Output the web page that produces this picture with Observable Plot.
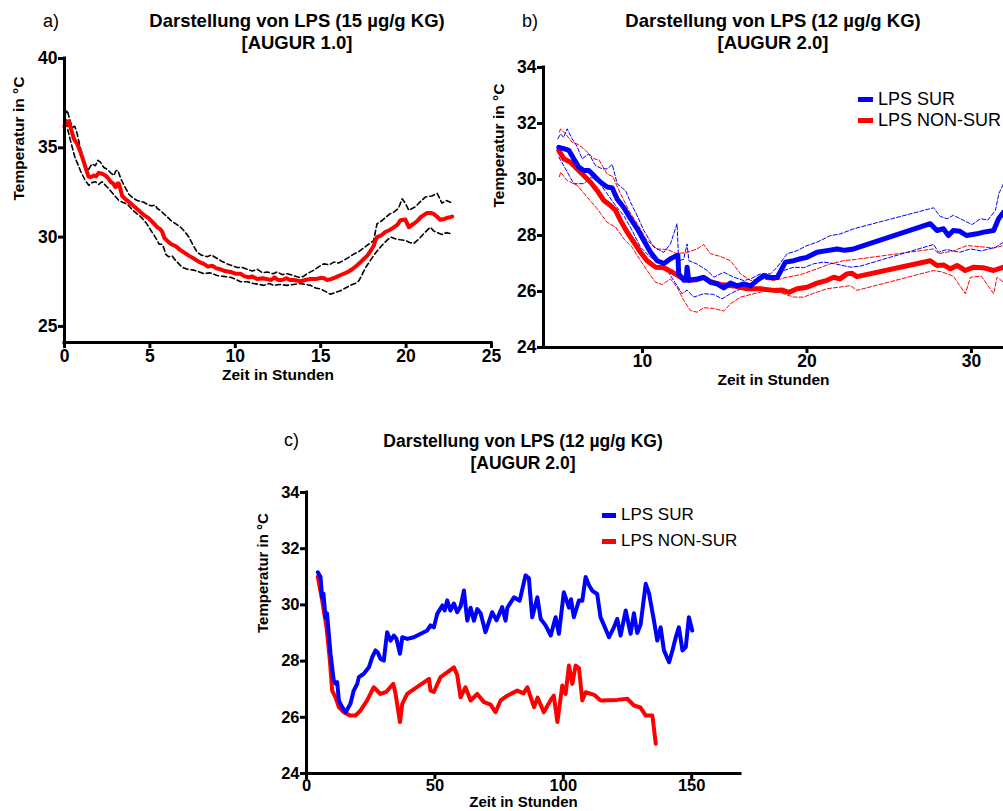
<!DOCTYPE html>
<html><head><meta charset="utf-8">
<script src="https://cdn.jsdelivr.net/npm/d3@7"></script>
<script src="https://cdn.jsdelivr.net/npm/@observablehq/plot@0.6"></script>
<style>
body{margin:0;background:#fff;}
#root{position:relative;width:1003px;height:811px;overflow:hidden;font-family:"Liberation Sans",Arial,Helvetica,sans-serif;color:#000;}
.abs{position:absolute;white-space:nowrap;}
.title{font-weight:bold;font-size:18.5px;text-align:center;line-height:22px;transform:translateX(-50%);}
.tag{font-size:18px;line-height:22px;}
.leg{font-size:18px;display:flex;align-items:center;line-height:20px;}
.sw{display:inline-block;width:15px;height:5px;margin-right:5px;}
</style></head><body><div id="root"></div>
<script>
// ---------- DATA ----------
// Panel a: LPS 15 µg/g KG, AUGUR 1.0  [hours, °C]
const aMean = [[0,36.2],[0.1,36.4],[0.25,36.5],[0.4,36.0],[0.55,35.5],[0.75,35.2],[0.94,34.75],[1.1,34.3],[1.23,33.9],[1.4,33.4],[1.52,33.35],[1.72,33.45],[1.85,33.4],[2.0,33.6],[2.2,33.55],[2.4,33.45],[2.55,33.3],[2.7,33.1],[2.85,33.0],[2.99,32.8],[3.1,33.0],[3.18,33.0],[3.3,32.6],[3.38,32.3],[3.6,32.1],[3.86,31.9],[4.1,31.7],[4.45,31.4],[4.7,31.2],[4.94,31.05],[5.2,30.8],[5.43,30.55],[5.6,30.45],[5.72,30.3],[5.85,29.95],[6.01,29.8],[6.25,29.6],[6.5,29.5],[6.75,29.3],[6.99,29.15],[7.3,28.95],[7.57,28.8],[7.9,28.6],[8.16,28.5],[8.4,28.35],[8.65,28.4],[8.9,28.25],[9.13,28.2],[9.4,28.1],[9.72,28.05],[10.0,27.95],[10.3,27.95],[10.55,27.8],[10.79,27.75],[11.0,27.8],[11.28,27.65],[11.6,27.7],[11.87,27.65],[12.1,27.6],[12.3,27.75],[12.5,27.6],[12.74,27.6],[13.0,27.7],[13.2,27.6],[13.43,27.6],[13.82,27.53],[14.1,27.6],[14.4,27.66],[14.7,27.65],[14.99,27.72],[15.2,27.7],[15.38,27.6],[15.6,27.65],[15.87,27.75],[16.1,27.85],[16.35,27.95],[16.6,28.05],[16.84,28.2],[17.1,28.4],[17.33,28.6],[17.55,28.8],[17.72,28.95],[17.9,29.2],[18.1,29.5],[18.2,29.8],[18.3,30.0],[18.55,30.1],[18.8,30.3],[19.05,30.4],[19.28,30.55],[19.5,30.7],[19.67,30.95],[19.96,30.98],[20.16,30.55],[20.3,30.65],[20.45,30.75],[20.65,30.9],[20.84,31.1],[21.05,31.25],[21.23,31.35],[21.45,31.35],[21.62,31.3],[21.8,31.15],[22.0,30.97],[22.2,31.0],[22.4,31.08],[22.7,31.15]];
const aUpper = [[0,36.8],[0.16,37.1],[0.3,36.6],[0.45,36.15],[0.6,36.2],[0.74,35.8],[0.9,35.1],[1.03,34.65],[1.2,34.0],[1.42,33.8],[1.6,34.1],[1.81,34.0],[1.95,34.3],[2.1,34.2],[2.3,33.9],[2.5,33.8],[2.7,33.6],[2.89,33.45],[3.0,33.7],[3.12,33.75],[3.25,33.4],[3.38,33.1],[3.6,32.7],[3.77,32.4],[4.0,32.2],[4.25,32.05],[4.45,32.0],[4.65,31.95],[4.9,31.8],[5.13,31.75],[5.3,31.8],[5.43,31.6],[5.6,31.5],[5.82,31.3],[6.0,31.15],[6.21,30.95],[6.5,30.75],[6.8,30.55],[7.05,30.3],[7.28,30.0],[7.5,29.6],[7.77,29.15],[8.0,29.0],[8.35,28.9],[8.6,29.0],[8.94,28.8],[9.2,28.65],[9.53,28.5],[9.8,28.4],[10.11,28.3],[10.4,28.3],[10.7,28.2],[11.0,28.1],[11.28,28.2],[11.6,28.0],[11.87,28.05],[12.2,27.95],[12.45,28.05],[12.75,27.9],[13.04,27.95],[13.4,27.85],[13.72,27.75],[14.0,27.8],[14.2,27.95],[14.6,28.15],[14.9,28.35],[15.18,28.5],[15.5,28.45],[15.77,28.6],[16.05,28.55],[16.35,28.7],[16.7,28.9],[16.94,29.05],[17.25,29.2],[17.52,29.4],[17.8,29.6],[18.1,29.8],[18.2,30.3],[18.3,30.75],[18.55,30.9],[18.8,31.1],[19.05,31.3],[19.28,31.4],[19.55,31.6],[19.77,32.15],[19.95,31.9],[20.16,31.5],[20.35,31.6],[20.55,31.7],[20.85,32.0],[21.14,32.25],[21.5,32.3],[21.82,32.45],[21.95,32.2],[22.1,31.9],[22.35,32.05],[22.6,31.95]];
const aLower = [[0,36.3],[0.1,36.6],[0.2,36.0],[0.35,35.4],[0.6,34.5],[0.94,33.7],[1.2,33.2],[1.42,32.9],[1.6,33.05],[1.81,33.1],[2.0,32.95],[2.2,33.1],[2.45,32.85],[2.69,32.6],[2.95,32.3],[3.18,32.05],[3.4,31.95],[3.67,31.85],[3.95,31.55],[4.25,31.3],[4.45,31.15],[4.65,30.95],[4.85,30.7],[5.04,30.4],[5.25,30.1],[5.43,29.8],[5.55,29.6],[5.72,29.6],[5.85,29.3],[5.91,29.05],[6.1,28.9],[6.3,28.95],[6.5,28.7],[6.7,28.5],[6.89,28.3],[7.2,28.2],[7.57,28.15],[7.9,28.05],[8.16,27.95],[8.5,28.0],[8.94,27.85],[9.3,27.8],[9.72,27.75],[10.0,27.65],[10.3,27.5],[10.7,27.5],[11.08,27.4],[11.4,27.35],[11.67,27.3],[12.0,27.4],[12.25,27.3],[12.6,27.35],[13.04,27.3],[13.4,27.35],[13.82,27.4],[14.1,27.35],[14.4,27.3],[14.7,27.15],[14.99,27.1],[15.3,26.95],[15.57,26.8],[15.85,26.9],[16.16,27.0],[16.45,27.15],[16.74,27.3],[17.0,27.4],[17.23,27.55],[17.4,27.85],[17.52,28.1],[17.7,28.4],[17.91,28.7],[18.2,29.1],[18.5,29.45],[18.8,29.75],[19.09,30.0],[19.4,29.9],[19.67,29.85],[20.0,29.8],[20.2,29.7],[20.45,29.65],[20.75,29.9],[21.04,30.2],[21.25,30.4],[21.43,30.55],[21.6,30.35],[21.82,30.25],[22.1,30.15],[22.35,30.25],[22.6,30.2]];
const aXTicks = [0,5,10,15,20,25];
const aYTicks = [25,30,35,40];

// Panel b: LPS 12 µg/g KG, AUGUR 2.0 (mean ± band)
const bSurMean = [[4.91,31.15],[5.21,31.1],[5.52,31.04],[5.82,30.74],[6.13,30.44],[6.43,30.32],[6.74,30.32],[7.04,30.14],[7.45,29.9],[7.85,29.73],[8.16,29.7],[8.46,29.3],[8.86,29.0],[9.27,28.6],[9.68,28.24],[10.08,27.82],[10.49,27.4],[10.89,27.1],[11.3,27.0],[11.7,27.17],[12.15,27.3],[12.2,26.63],[12.51,26.4],[12.66,26.4],[12.71,26.87],[12.81,26.4],[13.32,26.45],[13.72,26.5],[14.13,26.33],[14.53,26.27],[14.94,26.13],[15.35,26.3],[15.75,26.2],[16.16,26.27],[16.57,26.2],[16.97,26.4],[17.37,26.57],[17.78,26.5],[18.19,26.5],[18.69,27.05],[19.2,27.1],[19.6,27.17],[20.0,27.22],[20.61,27.4],[21.22,27.46],[21.83,27.52],[22.3,27.47],[22.84,27.52],[27.5,28.42],[27.9,28.18],[28.3,28.24],[28.6,28.0],[28.9,28.18],[29.3,28.15],[29.7,28.0],[30.33,28.06],[30.74,28.12],[31.35,28.18],[31.65,28.6],[31.95,28.83]];
const bNonMean = [[4.91,31.04],[5.21,30.74],[5.62,30.62],[6.03,30.38],[6.43,30.14],[6.84,29.9],[7.25,29.6],[7.65,29.25],[8.05,29.07],[8.36,28.9],[8.66,28.54],[9.07,28.12],[9.47,27.76],[9.88,27.4],[10.28,27.1],[10.79,26.87],[11.3,26.85],[11.81,26.69],[12.31,26.51],[12.82,26.4],[13.32,26.42],[13.72,26.51],[14.13,26.35],[14.74,26.25],[15.55,26.2],[16.37,26.1],[17.17,26.1],[17.98,26.04],[18.5,26.05],[18.9,25.97],[19.4,26.1],[20.0,26.15],[20.61,26.3],[21.22,26.4],[21.62,26.51],[22.0,26.45],[22.43,26.63],[22.73,26.65],[23.04,26.53],[27.5,27.1],[27.9,26.93],[28.3,26.95],[28.72,26.81],[29.13,26.93],[29.63,26.75],[30.14,26.87],[30.7,26.85],[31.35,26.75],[31.95,26.87]];
const bSurUpper = [[4.85,31.45],[5.02,31.63],[5.2,31.5],[5.42,31.81],[5.72,31.45],[6.0,31.2],[6.33,30.74],[6.74,30.92],[7.14,30.5],[7.55,30.38],[7.85,30.38],[8.16,30.54],[8.46,29.85],[8.97,29.6],[9.27,29.19],[9.68,28.7],[10.08,28.18],[10.69,27.58],[11.3,27.4],[11.7,27.7],[12.1,28.42],[12.2,27.1],[12.5,27.15],[12.71,27.7],[12.82,27.1],[13.32,26.98],[13.93,26.75],[14.34,26.51],[14.94,26.69],[15.55,26.51],[16.16,26.39],[16.57,26.45],[17.17,26.63],[17.78,26.63],[18.19,26.87],[18.8,27.35],[19.4,27.46],[20.0,27.64],[20.61,27.76],[21.43,28.0],[22.0,28.05],[22.84,28.24],[27.7,28.99],[28.1,28.68],[28.52,28.6],[28.9,28.72],[29.53,28.54],[30.04,28.39],[30.55,28.6],[31.0,28.55],[31.46,28.9],[31.67,29.5],[31.95,29.85]];
const bSurLower = [[4.91,30.8],[5.32,30.38],[5.82,29.85],[6.43,29.85],[6.84,30.08],[7.35,29.9],[7.85,29.49],[8.36,29.07],[8.86,28.71],[9.37,28.18],[9.88,27.58],[10.49,27.22],[11.09,27.05],[11.5,26.75],[12.1,26.21],[12.41,25.92],[12.71,26.05],[13.11,25.8],[13.72,25.92],[14.3,25.9],[14.84,25.74],[15.35,25.92],[15.75,26.04],[16.37,26.15],[16.97,26.33],[17.58,26.57],[17.9,26.45],[18.6,26.75],[19.2,26.87],[19.8,26.85],[20.41,26.99],[21.02,27.05],[21.6,27.0],[22.64,26.87],[23.2,26.9],[27.7,27.68],[28.0,27.4],[28.5,27.5],[29.3,27.4],[29.94,27.52],[30.6,27.45],[31.46,27.58],[31.95,27.76]];
const bNonUpper = [[4.95,31.7],[5.02,31.81],[5.32,31.63],[5.72,31.33],[6.1,31.25],[6.54,31.04],[7.04,30.74],[7.35,30.7],[7.85,30.2],[8.2,30.1],[8.66,29.49],[9.17,28.9],[9.68,28.42],[10.28,27.82],[10.89,27.52],[11.5,27.5],[12.1,27.35],[12.71,27.4],[13.32,27.52],[13.72,27.68],[14.13,27.35],[14.74,27.25],[15.35,27.1],[15.96,26.63],[16.57,26.39],[17.3,26.45],[17.98,26.39],[18.79,26.51],[19.6,26.6],[20.61,26.81],[21.43,26.99],[22.23,27.1],[23.0,27.15],[27.7,27.52],[28.0,27.35],[28.9,27.45],[29.73,27.64],[30.55,27.6],[31.35,27.55],[31.95,27.64]];
const bNonLower = [[4.95,30.1],[5.02,30.26],[5.42,29.96],[6.03,29.79],[6.64,29.37],[7.25,28.95],[7.85,28.47],[8.36,28.3],[8.86,27.88],[9.37,27.58],[9.88,27.1],[10.28,26.75],[10.79,26.33],[11.2,26.25],[11.7,26.45],[12.1,26.15],[12.51,25.68],[12.92,25.32],[13.32,25.26],[13.72,25.42],[14.3,25.4],[14.94,25.3],[15.35,25.56],[15.96,25.8],[16.77,25.92],[17.58,26.04],[18.4,25.95],[19.2,25.8],[19.8,25.8],[20.41,25.94],[21.22,26.1],[21.9,26.15],[22.64,26.21],[23.04,26.04],[27.7,26.75],[28.2,26.7],[28.9,26.55],[29.63,25.92],[29.94,26.51],[30.6,26.55],[31.35,25.92],[31.56,26.51],[31.95,26.33]];
const bXTicks = [10,20,30];
const bYTicks = [24,26,28,30,32,34];

// Panel c: LPS 12 µg/g KG, AUGUR 2.0 (full time course)
const cSur = [[4.4,31.16],[5.45,30.99],[6.1,30.27],[6.6,30.4],[7.4,29.56],[8.0,29.7],[9.35,28.26],[10.6,27.31],[11.3,27.2],[11.95,27.25],[12.6,26.6],[13.9,26.36],[15.2,26.18],[16.0,26.3],[17.1,26.48],[18.4,26.95],[19.75,27.19],[20.4,27.43],[22.3,27.55],[24.3,27.78],[25.6,28.14],[26.9,28.38],[27.8,28.3],[28.8,28.08],[30.1,28.02],[31.4,29.03],[32.7,28.73],[34.0,28.91],[35.0,28.8],[36.4,28.26],[37.3,28.85],[39.2,28.79],[41.8,28.85],[47.0,29.09],[48.3,29.27],[49.6,29.2],[50.9,29.68],[52.9,29.98],[53.8,29.8],[54.8,30.16],[56.0,29.8],[57.4,30.05],[58.7,29.74],[60.0,29.95],[61.3,30.51],[62.6,29.44],[63.9,29.9],[65.2,29.44],[66.5,29.85],[67.8,29.7],[69.7,29.03],[72.3,29.74],[74.0,29.45],[76.2,29.92],[77.5,29.44],[78.2,29.9],[80.8,30.27],[83.0,30.15],[85.3,31.05],[86.6,30.95],[87.9,29.56],[89.9,30.27],[91.2,29.5],[93.1,29.27],[95.1,28.91],[97.0,29.56],[98.3,28.97],[100.2,30.45],[102.2,29.9],[103.0,30.2],[104.1,29.56],[106.1,30.16],[107.4,30.15],[108.7,30.99],[110.0,30.7],[111.3,30.5],[113.2,30.39],[114.5,29.56],[116.2,29.2],[117.8,28.85],[119.7,29.2],[121.0,29.5],[122.3,28.91],[124.3,29.8],[126.2,28.97],[127.5,29.7],[128.8,29.0],[130.1,29.3],[132.1,30.75],[133.4,30.4],[135.3,29.44],[136.6,28.73],[137.9,29.2],[139.2,28.38],[141.2,27.96],[142.5,28.38],[143.8,28.85],[145.0,29.2],[146.4,28.38],[147.7,28.5],[148.9,29.56],[150.2,29.09]];
const cNon = [[4.4,31.0],[6.1,30.16],[7.8,29.2],[9.1,28.02],[10.0,26.95],[11.3,26.71],[12.6,26.36],[14.5,26.18],[17.1,26.06],[19.0,26.06],[21.0,26.24],[23.6,26.6],[26.2,27.07],[28.8,26.83],[31.0,26.9],[33.8,27.19],[34.7,26.83],[36.4,25.83],[37.3,26.48],[39.2,26.83],[47.7,27.37],[48.3,26.95],[49.6,26.9],[52.2,27.43],[54.8,27.6],[57.4,27.78],[58.7,27.5],[60.0,26.71],[61.9,27.07],[63.9,26.6],[66.5,26.83],[69.1,26.54],[71.7,26.45],[73.6,26.18],[75.6,26.6],[78.2,26.77],[82.1,26.95],[84.5,26.85],[86.0,27.07],[88.6,26.36],[90.0,26.7],[92.4,26.18],[95.0,26.6],[96.3,26.77],[97.7,25.83],[99.6,27.13],[100.9,26.83],[102.2,27.84],[103.5,27.19],[104.8,27.84],[106.1,27.75],[107.4,26.6],[108.7,26.89],[112.0,26.8],[114.5,26.6],[121.0,26.62],[124.9,26.66],[127.5,26.42],[130.0,26.35],[132.1,26.06],[134.7,26.06],[136.0,25.06]];
const cXTicks = [0,50,100,150];
const cYTicks = [24,26,28,30,32,34];

const legendLabels = ["LPS SUR","LPS NON-SUR"];
const colors = ["#0000ff","#ff0000"];

// ---------- RENDER ----------
const root = document.getElementById("root");
const svgStyle = "overflow:visible;background:transparent;font-family:'Liberation Sans',Arial,Helvetica,sans-serif;font-weight:bold;";

function place(el, left, top) {
  const d = document.createElement("div");
  d.className = "abs";
  d.style.left = left + "px"; d.style.top = top + "px";
  d.appendChild(el);
  root.appendChild(d);
  return d;
}
function html(cls, text, left, top, extra) {
  const d = document.createElement("div");
  d.className = "abs " + cls;
  d.style.left = left + "px"; d.style.top = top + "px";
  if (extra) Object.assign(d.style, extra);
  d.innerHTML = text;
  root.appendChild(d);
}
const X = d => d[0], Y = d => d[1];

function panel(o) {
  const [x0] = o.xDomain, [y0] = o.yDomain;
  return Plot.plot({
    width: o.width, height: o.height,
    marginLeft: o.ml, marginRight: o.mr, marginTop: o.mt, marginBottom: o.mb,
    x: {domain: o.xDomain}, y: {domain: o.yDomain},
    style: svgStyle,
    marks: [
      Plot.axisX({ticks: o.xTicks, tickSize: 6, tickPadding: o.xPad, strokeWidth: 3, fontSize: o.tickFont, label: null}),
      Plot.axisY({ticks: o.yTicks, tickSize: 6, tickPadding: 1, strokeWidth: 3, fontSize: o.tickFont, label: null}),
      ...o.lines,
      Plot.ruleX([x0], {strokeWidth: 3, strokeLinecap: "square"}),
      Plot.ruleY([y0], {strokeWidth: 3, strokeLinecap: "square"}),
      Plot.text(["Zeit in Stunden"], {frameAnchor: "bottom", dy: o.xLabelDy, fontSize: o.labelFont, fontWeight: "bold"}),
      Plot.text(["Temperatur in °C"], {frameAnchor: "left", rotate: -90, dx: o.yLabelDx, fontSize: o.labelFont, fontWeight: "bold"})
    ]
  });
}

// Panel a
place(panel({
  width: 500, height: 400, ml: 64, mr: 9, mt: 58, mb: 58,
  xDomain: [0, 25], yDomain: [24.1, 40], xTicks: aXTicks, yTicks: aYTicks, tickFont: 17.5, xPad: 1,
  xLabelDy: 37, yLabelDx: -45, labelFont: 15.5,
  lines: [
    Plot.line(aUpper, {x: X, y: Y, stroke: "#000", strokeWidth: 1.6, strokeDasharray: "5,3"}),
    Plot.line(aLower, {x: X, y: Y, stroke: "#000", strokeWidth: 1.6, strokeDasharray: "5,3"}),
    Plot.line(aMean, {x: X, y: Y, stroke: "#ff0000", strokeWidth: 4})
  ]
}), 0, 0);

// Panel b
place(panel({
  width: 513, height: 400, ml: 53, mr: 0, mt: 67, mb: 53,
  xDomain: [3.98, 31.95], yDomain: [24, 34], xTicks: bXTicks, yTicks: bYTicks, tickFont: 17.5, xPad: 1,
  xLabelDy: 37, yLabelDx: -44, labelFont: 15.5,
  lines: [
    Plot.line(bNonUpper, {x: X, y: Y, stroke: colors[1], strokeWidth: 1, strokeDasharray: "4,2"}),
    Plot.line(bNonLower, {x: X, y: Y, stroke: colors[1], strokeWidth: 1, strokeDasharray: "4,2"}),
    Plot.line(bSurUpper, {x: X, y: Y, stroke: colors[0], strokeWidth: 1, strokeDasharray: "4,2"}),
    Plot.line(bSurLower, {x: X, y: Y, stroke: colors[0], strokeWidth: 1, strokeDasharray: "4,2"}),
    Plot.line(bNonMean, {x: X, y: Y, stroke: colors[1], strokeWidth: 5}),
    Plot.line(bSurMean, {x: X, y: Y, stroke: colors[0], strokeWidth: 5})
  ]
}), 490, 0);

// Panel c
place(panel({
  width: 560, height: 391, ml: 66, mr: 60, mt: 72, mb: 38,
  xDomain: [0, 169], yDomain: [24, 34], xTicks: cXTicks, yTicks: cYTicks, tickFont: 16.5, xPad: 0,
  xLabelDy: 33, yLabelDx: -43, labelFont: 15,
  lines: [
    Plot.line(cNon, {x: X, y: Y, stroke: colors[1], strokeWidth: 4}),
    Plot.line(cSur, {x: X, y: Y, stroke: colors[0], strokeWidth: 4})
  ]
}), 240, 420);

// Titles & tags
html("tag", "a)", 43, 10);
html("title", "Darstellung von LPS (15 µg/g KG)<br>[AUGUR 1.0]", 297, 10);
html("tag", "b)", 522, 10);
html("title", "Darstellung von LPS (12 µg/g KG)<br>[AUGUR 2.0]", 773, 10);
html("tag", "c)", 284, 429);
html("title", "Darstellung von LPS (12 µg/g KG)<br>[AUGUR 2.0]", 523, 430, {fontSize: "17.5px"});

// Legends
function legend(left, top, gap, fs, swW) {
  legendLabels.forEach((lab, i) => {
    const sw = `<span class="sw" style="background:${colors[i]};width:${swW}px"></span>`;
    html("leg", sw + lab, left, top + i * gap, {fontSize: fs + "px"});
  });
}
legend(858, 89, 21, 18, 15);
legend(602, 505, 26, 17, 14);
</script>
</body></html>
